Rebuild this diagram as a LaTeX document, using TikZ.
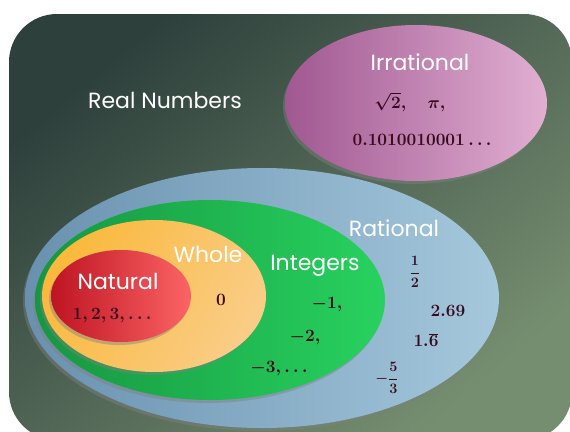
\documentclass[tikz,border=0pt]{standalone}
\usepackage{fontspec}
\setsansfont{Poppins}
\usetikzlibrary{shadows}
\definecolor{bgA}{RGB}{46,64,60}
\definecolor{bgB}{RGB}{118,142,112}
\definecolor{pinkA}{RGB}{160,88,145}
\definecolor{pinkB}{RGB}{225,175,210}
\definecolor{blueA}{RGB}{105,145,175}
\definecolor{blueB}{RGB}{165,200,220}
\definecolor{greenA}{RGB}{22,150,65}
\definecolor{greenB}{RGB}{40,210,95}
\definecolor{orA}{RGB}{250,185,60}
\definecolor{orB}{RGB}{250,205,135}
\definecolor{redA}{RGB}{190,20,35}
\definecolor{redB}{RGB}{252,100,100}
\definecolor{numc}{RGB}{55,10,30}
\tikzset{
  lbl/.style={text=white,font=\sffamily\fontsize{22}{26}\selectfont,inner sep=0pt},
  num/.style={text=numc,font=\fontsize{18}{21}\selectfont\boldmath,inner sep=0pt},
  fr/.style={text=numc,font=\fontsize{14}{17}\selectfont\boldmath,inner sep=0pt},
  setell/.style={drop shadow={shadow xshift=-2pt,shadow yshift=-3pt,opacity=0.45}},
}
\begin{document}
\begin{tikzpicture}[x=1pt,y=-1pt]
\useasboundingbox (0,0) rectangle (570,431);
\fill[white] (0,0) rectangle (570,431);
% background
\shade[top color=bgA,bottom color=bgB,shading angle=40,rounded corners=48] (9,14) rectangle (572,440);
% irrational
\shade[setell,left color=pinkA,right color=pinkB] (416,103) ellipse [x radius=131,y radius=78];
% rational
\shade[setell,left color=blueA,right color=blueB] (262,298) ellipse [x radius=237,y radius=130];
% integers
\shade[setell,left color=greenA,right color=greenB] (210,300) ellipse [x radius=175,y radius=100];
% whole
\shade[setell,top color=orA,bottom color=orB,shading angle=60] (154,296) ellipse [x radius=112,y radius=76];
% natural
\shade[setell,left color=redA,right color=redB] (121,296) ellipse [x radius=70,y radius=46];
% labels
\node[lbl] (real) at (165,100) {Real Numbers};
\node[lbl] (irr) at (420,62) {Irrational};
\node[lbl] (rat) at (394,228) {Rational};
\node[lbl] (whole) at (208,254) {Whole};
\node[lbl] (int) at (315,266) {Integers};
\node[lbl] (nat) at (118,281) {Natural};
% numbers
\node[num] (sq) at (410,102) {$\sqrt{\mathbf{2}},\quad \pi,$};
\node[num] (dec) at (422,140) {$\mathbf{0.1010010001}\ldots$};
\node[num] (nn) at (112,316) {$\mathbf{1},\mathbf{2},\mathbf{3},\ldots$};
\node[num] (zero) at (221,300) {$\mathbf{0}$};
\node[num] (m1) at (327,305) {$-\mathbf{1},$};
\node[num] (m2) at (305,338) {$-\mathbf{2},$};
\node[num] (m3) at (279,369) {$-\mathbf{3},\ldots$};
\node[fr] (half) at (415,272) {$\displaystyle\frac{\mathbf{1}}{\mathbf{2}}$};
\node[num] (tsn) at (448,311) {$\mathbf{2.69}$};
\node[num] (osix) at (426,340) {$\mathbf{1.}\overline{\mathbf{6}}$};
\node[fr] (mft) at (387,378) {$\displaystyle-\frac{\mathbf{5}}{\mathbf{3}}$};
\end{tikzpicture}
\end{document}
